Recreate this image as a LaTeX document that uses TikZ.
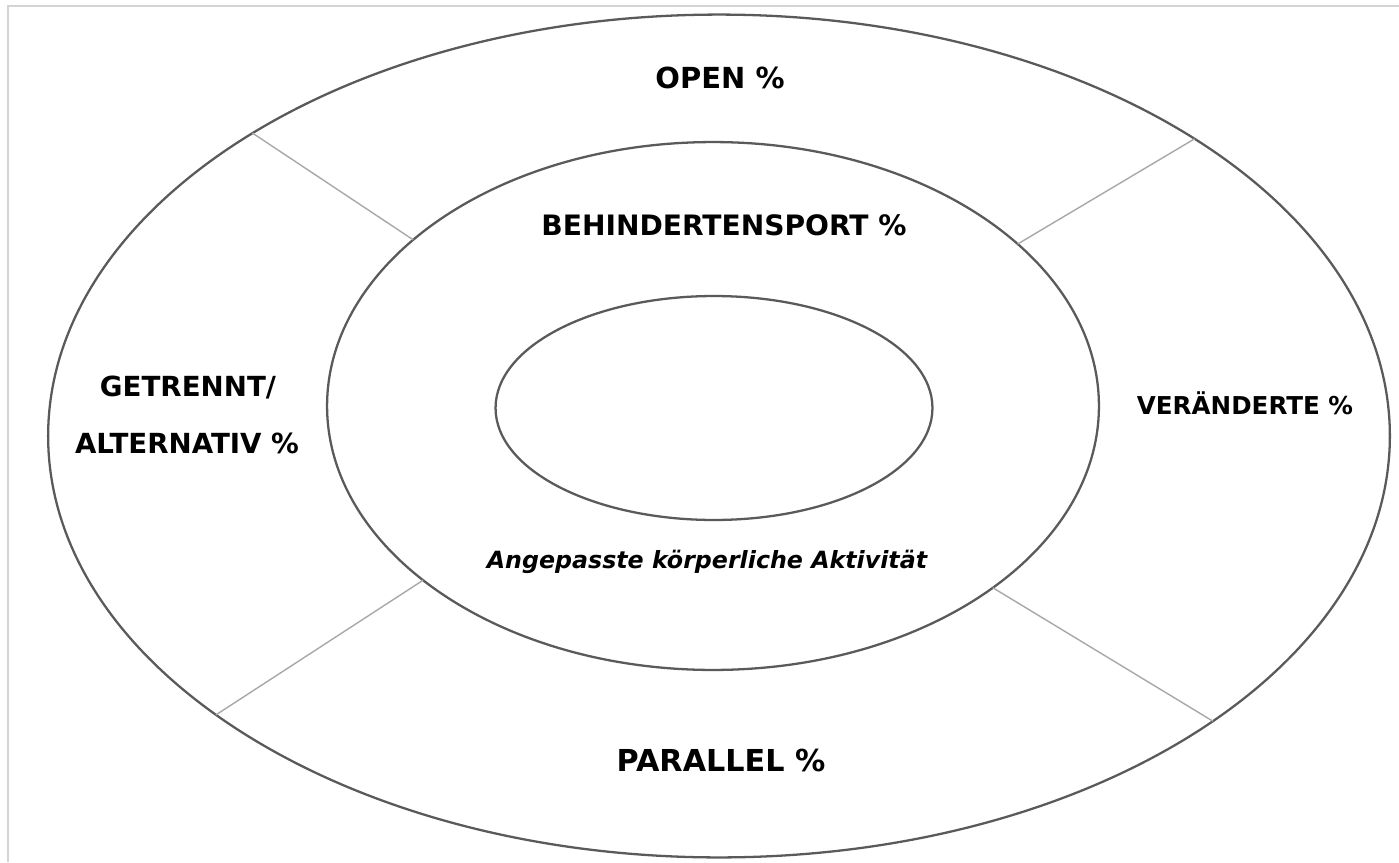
\documentclass[tikz,border=0pt]{standalone}
\usepackage{fontspec}
\setmainfont{DejaVu Sans}
\usepackage{tikz}
\usetikzlibrary{shapes.geometric,positioning}

\definecolor{ringgray}{HTML}{5A5A5A}
\definecolor{divgray}{HTML}{A8A8A8}
\definecolor{framegray}{HTML}{D4D4D4}

\begin{document}
\begin{tikzpicture}[x=0.02cm, y=-0.02cm,
  ring/.style={draw=ringgray, line width=1.3pt, ellipse, inner sep=0pt, outer sep=0pt},
  divider/.style={draw=divgray, line width=0.8pt},
  lab/.style={anchor=base, inner sep=0pt, font=\bfseries\fontsize{#1}{#1}\selectfont},
  itlab/.style={anchor=base, inner sep=0pt, font=\bfseries\itshape\fontsize{#1}{#1}\selectfont}
]
\useasboundingbox (0,0) rectangle (1399,862);

% frame
\draw[framegray, line width=0.6pt] (8,862) -- (8,6) -- (1399,6);

% rings
\node[ring, minimum width=26.84cm, minimum height=16.86cm] (outer) at (719,436) {};
\node[ring, minimum width=15.44cm, minimum height=10.56cm] (middle) at (713,406) {};
\node[ring, minimum width=8.74cm, minimum height=4.48cm] (inner) at (714,408) {};

% dividers between the outer sections
\draw[divider] (middle.151.8) -- (outer.147.2);
\draw[divider] (middle.28) -- (outer.32);
\draw[divider] (middle.211.6) -- (outer.209.8);
\draw[divider] (middle.327.6) -- (outer.330);

% labels
\node[lab=16.5] (open) at (720,88) {OPEN \%};
\node[lab=16] (sport) at (724,235) {BEHINDERTENSPORT \%};
\node[lab=15.75] (getrennt) at (188,396) {GETRENNT/};
\node[lab=15.75] (alternativ) at (187,453) {ALTERNATIV \%};
\node[lab=14] (veraendert) at (1245,414) {VERÄNDERTE \%};
\node[itlab=13.5] (aktiv) at (707,568) {Angepasste körperliche Aktivität};
\node[lab=17.2] (parallel) at (721,771) {PARALLEL \%};
\end{tikzpicture}
\end{document}
